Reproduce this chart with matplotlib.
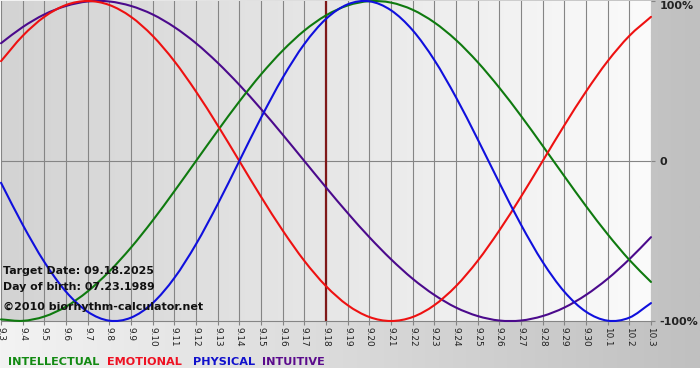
import matplotlib
matplotlib.use('Agg')
import matplotlib.pyplot as plt
import numpy as np
from matplotlib.colors import LinearSegmentedColormap
from matplotlib.path import Path
from matplotlib.patches import PathPatch

# ---- data ----
dates = ['9.3', '9.4', '9.5', '9.6', '9.7', '9.8', '9.9', '9.10', '9.11', '9.12',
         '9.13', '9.14', '9.15', '9.16', '9.17', '9.18', '9.19', '9.20', '9.21', '9.22',
         '9.23', '9.24', '9.25', '9.26', '9.27', '9.28', '9.29', '9.30', '10.1', '10.2', '10.3']

intellectual = [-0.990, -0.999, -0.972, -0.910, -0.815, -0.690, -0.541, -0.372, -0.189, 0.000,
                0.189, 0.372, 0.541, 0.690, 0.815, 0.910, 0.972, 0.999, 0.990, 0.945,
                0.866, 0.756, 0.618, 0.458, 0.282, 0.095, -0.095, -0.282, -0.458, -0.618, -0.756]

emotional = [0.624, 0.782, 0.901, 0.975, 1.000, 0.975, 0.901, 0.782, 0.624, 0.434,
             0.223, 0.000, -0.223, -0.434, -0.624, -0.782, -0.901, -0.975, -1.000, -0.975,
             -0.901, -0.782, -0.624, -0.434, -0.223, 0.000, 0.223, 0.434, 0.624, 0.782, 0.901]

physical = [-0.136, -0.398, -0.631, -0.817, -0.942, -0.998, -0.979, -0.888, -0.731, -0.520,
            -0.270, 0.000, 0.270, 0.520, 0.731, 0.888, 0.979, 0.998, 0.942, 0.817,
            0.631, 0.398, 0.136, -0.136, -0.398, -0.631, -0.817, -0.942, -0.998, -0.979, -0.888]

intuitive = [0.736, 0.837, 0.916, 0.969, 0.997, 0.997, 0.969, 0.916, 0.837, 0.736,
             0.614, 0.476, 0.325, 0.165, 0.000, -0.165, -0.325, -0.476, -0.614, -0.736,
             -0.837, -0.916, -0.969, -0.997, -0.997, -0.969, -0.916, -0.837, -0.736, -0.614, -0.476]

series_names = ['INTELLECTUAL', 'EMOTIONAL', 'PHYSICAL', 'INTUITIVE']
target_label = '9.18'
y_ticks = [1, 0, -1]
y_tick_labels = ['100%', '0', '-100%']
info_lines = ['Target Date: 09.18.2025', 'Day of birth: 07.23.1989']
credit = '\u00a92010 biorhythm-calculator.net'

# ---- styling ----
colors = {'INTELLECTUAL': '#0f7a0f', 'EMOTIONAL': '#ee1111',
          'PHYSICAL': '#1010dd', 'INTUITIVE': '#4b0a8c'}
legend_colors = {'INTELLECTUAL': '#128a12', 'EMOTIONAL': '#ee1122',
                 'PHYSICAL': '#1010cc', 'INTUITIVE': '#5a0a8c'}
W, H = 700, 380
plt.rcParams['font.family'] = ['DejaVu Sans']


def smooth_path(xs, ys):
    """Smooth (Catmull-Rom style) drawing of a line through the data points."""
    pts = np.column_stack([xs, ys]).astype(float)
    ext = np.vstack([2 * pts[0] - pts[1], pts, 2 * pts[-1] - pts[-2]])
    verts = [pts[0]]
    codes = [Path.MOVETO]
    for i in range(1, len(ext) - 2):
        p0, p1, p2, p3 = ext[i - 1], ext[i], ext[i + 1], ext[i + 2]
        verts += [p1 + (p2 - p0) / 6.0, p2 - (p3 - p1) / 6.0, p2]
        codes += [Path.CURVE4] * 3
    return Path(verts, codes)


fig = plt.figure(figsize=(W / 100, H / 100), dpi=100)
fig.patch.set_facecolor('white')

grad = np.linspace(0, 1, 256).reshape(1, -1)
bg = fig.add_axes([0, 12 / H, 1, 1 - 12 / H], zorder=0)
bg.imshow(grad, aspect='auto', extent=[0, 1, 0, 1],
          cmap=LinearSegmentedColormap.from_list('bg', ['#f3f3f3', '#c0c0c0']))
bg.axis('off')

ax = fig.add_axes([1 / W, 1 - 321 / H, 650 / W, 320 / H], zorder=1)
x = np.arange(len(dates))
ax.set_xlim(x[0], x[-1])
ax.set_ylim(-1.0, 1.0)
ax.imshow(grad, aspect='auto', extent=[x[0], x[-1], -1.0, 1.0], zorder=0,
          cmap=LinearSegmentedColormap.from_list('pl', ['#d3d3d3', '#fbfbfb']))

for xi in x:
    ax.axvline(xi, color='#858585', lw=0.8, zorder=1)
ax.axhline(0, color='#858585', lw=0.8, zorder=1)
ax.axvline(dates.index(target_label), color='#7f1818', lw=1.6, zorder=2)

data = {'INTELLECTUAL': intellectual, 'EMOTIONAL': emotional,
        'PHYSICAL': physical, 'INTUITIVE': intuitive}
for name in ['INTUITIVE', 'INTELLECTUAL', 'EMOTIONAL', 'PHYSICAL']:
    patch = PathPatch(smooth_path(x, data[name]), fill=False, edgecolor=colors[name],
                      lw=1.5, zorder=3, clip_on=False, capstyle='round', joinstyle='round')
    ax.add_patch(patch)

for s in ['top', 'left', 'right']:
    ax.spines[s].set_visible(False)
ax.spines['bottom'].set_color('#858585')
ax.spines['bottom'].set_linewidth(0.8)

ax.set_xticks(x)
ax.set_xticklabels(dates, rotation=-90, fontsize=6.4, color='#222222')
ax.tick_params(axis='x', length=3, width=0.8, color='#858585', pad=1)
ax.yaxis.tick_right()
ax.set_yticks(y_ticks)
ylabels = ax.set_yticklabels(y_tick_labels, fontsize=8, fontweight='bold', color='#222222')
ylabels[0].set_va('top')
ax.tick_params(axis='y', length=3, width=0.8, color='#858585', pad=3)

# info texts
fig.text(3 / W, 1 - 271 / H, info_lines[0], fontsize=7.9, fontweight='bold',
         color='#111111', va='center', ha='left', zorder=5)
fig.text(3 / W, 1 - 287 / H, info_lines[1], fontsize=7.9, fontweight='bold',
         color='#111111', va='center', ha='left', zorder=5)
fig.text(3 / W, 1 - 307 / H, credit, fontsize=8, fontweight='bold',
         color='#111111', va='center', ha='left', zorder=5)

# legend labels
leg_x = [8, 107, 193, 262]
for name, lx in zip(series_names, leg_x):
    fig.text(lx / W, 1 - 362 / H, name, fontsize=8.1, fontweight='bold',
             color=legend_colors[name], va='center', ha='left', zorder=5)

fig.savefig('out.png', dpi=100)
